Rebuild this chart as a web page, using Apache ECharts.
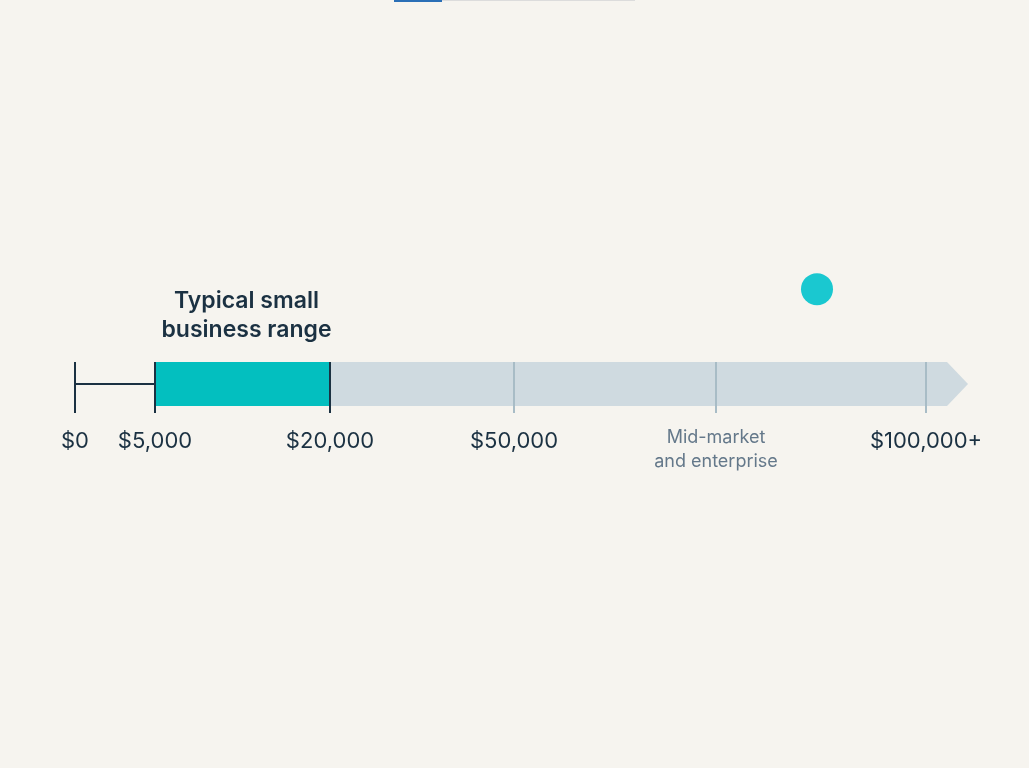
<!DOCTYPE html>
<html>
<head>
<meta charset="utf-8">
<script src="https://cdn.jsdelivr.net/npm/echarts@6/dist/echarts.min.js"></script>
<style>
  html, body { margin: 0; padding: 0; background: #f6f4ef; }
  #main { width: 1029px; height: 768px; }
</style>
</head>
<body>
<div id="main"></div>
<script>
var myChart = echarts.init(document.getElementById('main'));

// scale positions of the ticks (axis units, not dollars: the scale is not linear)
var tickPos = [0, 0.8, 2.55, 4.39, 6.41, 8.51];
var tickLabels = ['$0', '$5,000', '$20,000', '$50,000', 'Mid-market\nand enterprise', '$100,000+'];
var tickKind = ['dark', 'dark', 'dark', 'light', 'light', 'light'];

// bands along the scale: [start, end]
var fullRange = [0.8, 8.72];     // gray arrow, ends in a point
var smallBizRange = [0.8, 2.55]; // teal band
var smallBizLabel = 'Typical small\nbusiness range';
var arrowTip = 8.93;

// the teal dot above the bar: [x, y]
var dotPoint = [7.42, 0.334];

var dark = '#1b3142';
var font = 'Inter, "Noto Sans", sans-serif';

option = {
  backgroundColor: '#f6f4ef',
  animation: false,
  graphic: [
    { type: 'rect', left: 394, top: 0, shape: { width: 48, height: 2 }, style: { fill: '#2a6fb6' } },
    { type: 'rect', left: 442, top: 0, shape: { width: 193, height: 1 }, style: { fill: '#dcdcdc' } }
  ],
  grid: { left: 75, right: 54, top: 100, bottom: 100 },
  xAxis: { type: 'value', min: 0, max: 9, show: false },
  yAxis: { type: 'value', min: -1, max: 1, show: false },
  series: [
    {
      // gray arrow bar
      type: 'custom',
      silent: true,
      data: [[fullRange[0], fullRange[1], arrowTip]],
      renderItem: function (params, api) {
        var a = api.coord([api.value(0), 0]);
        var b = api.coord([api.value(1), 0]);
        var t = api.coord([api.value(2), 0]);
        var h = 22;
        return {
          type: 'polygon',
          shape: { points: [[a[0], a[1] - h], [b[0], b[1] - h], [t[0], t[1]], [b[0], b[1] + h], [a[0], a[1] + h]] },
          style: { fill: '#cfdae0' }
        };
      }
    },
    {
      // teal band with its title
      type: 'custom',
      silent: true,
      data: [[smallBizRange[0], smallBizRange[1]]],
      renderItem: function (params, api) {
        var a = api.coord([api.value(0), 0]);
        var b = api.coord([api.value(1), 0]);
        return {
          type: 'group',
          children: [
            { type: 'rect', shape: { x: a[0], y: a[1] - 22, width: b[0] - a[0], height: 44 }, style: { fill: '#03bfbf' } },
            { type: 'line', shape: { x1: api.coord([tickPos[0], 0])[0], y1: a[1], x2: a[0], y2: a[1] }, style: { stroke: dark, lineWidth: 2 } },
            {
              type: 'text',
              x: (a[0] + b[0]) / 2 + 4, y: a[1] - 39,
              style: {
                text: smallBizLabel, font: '600 23px ' + font, fill: dark,
                align: 'center', verticalAlign: 'bottom', lineHeight: 29
              }
            }
          ]
        };
      }
    },
    {
      // ticks and tick labels
      type: 'custom',
      silent: true,
      data: tickPos.map(function (p, i) { return [p, i]; }),
      renderItem: function (params, api) {
        var i = api.value(1);
        var c = api.coord([api.value(0), 0]);
        var isDark = tickKind[i] === 'dark';
        var multi = tickLabels[i].indexOf('\n') >= 0;
        return {
          type: 'group',
          children: [
            { type: 'line', shape: { x1: c[0], y1: c[1] - 22, x2: c[0], y2: c[1] + 29 },
              style: { stroke: isDark ? dark : '#a8bcc6', lineWidth: 2 } },
            {
              type: 'text', x: c[0], y: multi ? c[1] + 42 : c[1] + 57,
              style: {
                text: tickLabels[i],
                font: (multi ? '18px ' : '22px ') + font,
                fill: multi ? '#64788a' : dark,
                align: 'center', verticalAlign: multi ? 'top' : 'middle',
                lineHeight: 24
              }
            }
          ]
        };
      }
    },
    {
      type: 'scatter',
      silent: true,
      symbolSize: 32,
      itemStyle: { color: '#1ac8d0', opacity: 1 },
      data: [dotPoint]
    }
  ]
};

myChart.setOption(option);
</script>
</body>
</html>
